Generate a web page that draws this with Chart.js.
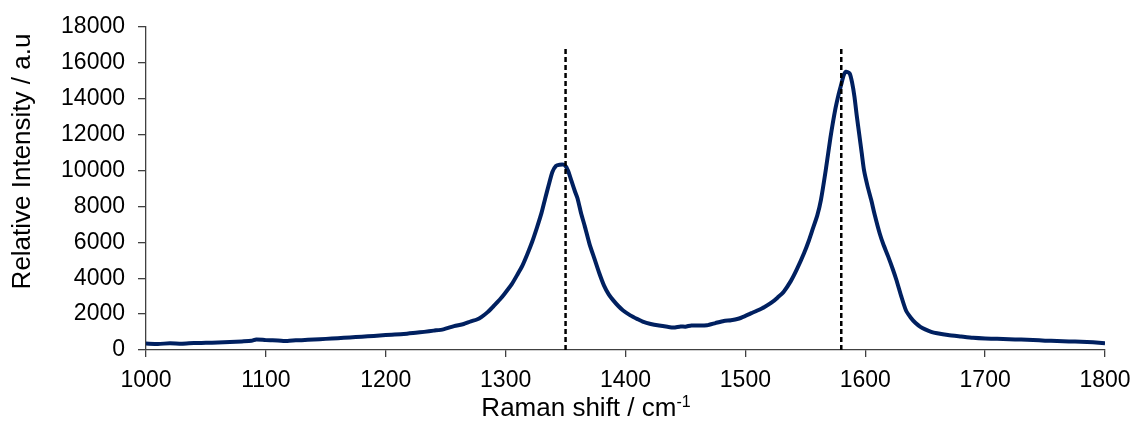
<!DOCTYPE html>
<html>
<head>
<meta charset="utf-8">
<script src="https://cdn.jsdelivr.net/npm/chart.js@4/dist/chart.umd.min.js"></script>
<style>
  html, body { margin: 0; padding: 0; background: #fff; }
  #wrap { width: 1137px; height: 425px; }
</style>
</head>
<body>
<div id="wrap"><canvas id="raman"></canvas></div>
<script>
// Raman shift (cm-1)
var shift = [
  1000, 1010, 1020, 1030, 1040, 1050, 1060, 1070, 1080, 1088,
  1092, 1100, 1110, 1118, 1125, 1135, 1145, 1155, 1165, 1175,
  1185, 1195, 1205, 1215, 1225, 1232, 1240, 1248, 1257, 1265,
  1271, 1276, 1280, 1285, 1290, 1295, 1299, 1305, 1310, 1314,
  1318, 1322, 1326, 1330, 1333, 1336, 1339, 1342, 1345, 1349,
  1352, 1355, 1358, 1360, 1363, 1366, 1370, 1374, 1378, 1382,
  1386, 1390, 1394, 1398, 1404, 1410, 1415, 1421, 1428, 1435,
  1440, 1446, 1450, 1455, 1462, 1468, 1475, 1482, 1488, 1494,
  1500, 1505, 1510, 1516, 1522, 1527, 1532, 1538, 1543, 1549,
  1553, 1556, 1560, 1563, 1567, 1571, 1575, 1578, 1580, 1582,
  1584, 1587, 1589, 1591, 1593, 1595, 1597, 1599, 1602, 1605,
  1608, 1612, 1615, 1619, 1623, 1626, 1630, 1634, 1638, 1642,
  1646, 1650, 1655, 1660, 1669, 1680, 1690, 1700, 1710, 1720,
  1730, 1740, 1750, 1760, 1770, 1780, 1790, 1800
];

// Relative intensity (a.u.)
var intensity = [
  360, 340, 370, 350, 390, 400, 420, 450, 480, 510,
  590, 550, 530, 500, 540, 570, 600, 640, 680, 720,
  760, 810, 850, 890, 960, 1010, 1080, 1150, 1330, 1450,
  1600, 1700, 1850, 2110, 2450, 2800, 3120, 3650, 4220, 4700,
  5320, 6000, 6790, 7650, 8440, 9200, 9910, 10250, 10320, 10310,
  10000, 9400, 8800, 8440, 7600, 6900, 5900, 5100, 4300, 3600,
  3100, 2750, 2450, 2200, 1930, 1720, 1560, 1450, 1360, 1290,
  1250, 1310, 1300, 1370, 1360, 1380, 1500, 1620, 1660, 1740,
  1900, 2050, 2200, 2400, 2650, 2930, 3250, 3850, 4500, 5400,
  6100, 6700, 7500, 8350, 10000, 11840, 13400, 14300, 14800, 15300,
  15500, 15400, 14900, 14100, 13000, 12000, 11000, 10000, 9100, 8350,
  7500, 6500, 5900, 5230, 4500, 3900, 3000, 2200, 1800, 1500,
  1290, 1150, 1010, 930, 830, 750, 680, 640, 620, 600,
  580, 560, 520, 500, 480, 460, 430, 380
];

// D and G band markers
var bands = [1350, 1580];
var bandTop = 16800;

// axis ranges and tick steps
var xRange = [1000, 1800];
var xStep = 100;
var yRange = [0, 18000];
var yStep = 2000;

var FONT = '"Liberation Sans", Arial, sans-serif';

var spectrum = shift.map(function (x, i) { return { x: x, y: intensity[i] }; });

var datasets = bands.map(function (b) {
  return {
    data: [{ x: b, y: 0 }, { x: b, y: bandTop }],
    borderColor: '#000000',
    borderWidth: 2.5,
    borderDash: [5, 3],
    pointRadius: 0,
    order: 0
  };
});
datasets.push({
  data: spectrum,
  borderColor: '#002060',
  borderWidth: 4,
  pointRadius: 0,
  tension: 0.2,
  order: 1
});

// plain numbers on the ticks, no thousands separator
function plain(v) { return String(v); }

// axis titles, with a superscript on the x unit
var axisTitles = {
  id: 'axisTitles',
  afterDraw: function (chart) {
    var c = chart.ctx;
    c.save();
    c.fillStyle = '#000000';
    c.textBaseline = 'alphabetic';

    var main = 'Raman shift / cm';
    var sup = '-1';
    c.font = '26px ' + FONT;
    var w1 = c.measureText(main).width;
    c.font = '16px ' + FONT;
    var w2 = c.measureText(sup).width;
    var x0 = 586 - (w1 + w2) / 2;
    c.font = '26px ' + FONT;
    c.textAlign = 'left';
    c.fillText(main, x0, 416);
    c.font = '16px ' + FONT;
    c.fillText(sup, x0 + w1, 406.5);

    c.translate(30, 161.5);
    c.rotate(-Math.PI / 2);
    c.textAlign = 'center';
    c.font = '26px ' + FONT;
    c.fillText('Relative Intensity / a.u', 0, 0);
    c.restore();
  }
};

new Chart(document.getElementById('raman'), {
  type: 'line',
  data: { datasets: datasets },
  options: {
    responsive: true,
    maintainAspectRatio: false,
    animation: false,
    layout: { padding: { left: 0, right: 32, top: 23, bottom: 0 } },
    plugins: {
      legend: { display: false },
      tooltip: { enabled: false }
    },
    scales: {
      x: {
        type: 'linear',
        min: xRange[0],
        max: xRange[1],
        afterFit: function (s) {
          s.height = 75;
          s.paddingLeft = 0;
          s.paddingRight = 0;
        },
        ticks: {
          stepSize: xStep,
          color: '#000000',
          padding: 10,
          maxRotation: 0,
          callback: plain,
          font: { family: FONT, size: 23 }
        },
        grid: {
          drawOnChartArea: false,
          drawTicks: true,
          tickLength: 7,
          color: '#404040',
          lineWidth: 1.3
        },
        border: { color: '#404040', width: 1.3 }
      },
      y: {
        min: yRange[0],
        max: yRange[1],
        afterFit: function (s) { s.width = 146; },
        ticks: {
          stepSize: yStep,
          color: '#000000',
          padding: 13,
          callback: plain,
          font: { family: FONT, size: 23 }
        },
        grid: {
          drawOnChartArea: false,
          drawTicks: true,
          tickLength: 8,
          color: '#404040',
          lineWidth: 1.3
        },
        border: { color: '#404040', width: 1.3 }
      }
    }
  },
  plugins: [axisTitles]
});
</script>
</body>
</html>
